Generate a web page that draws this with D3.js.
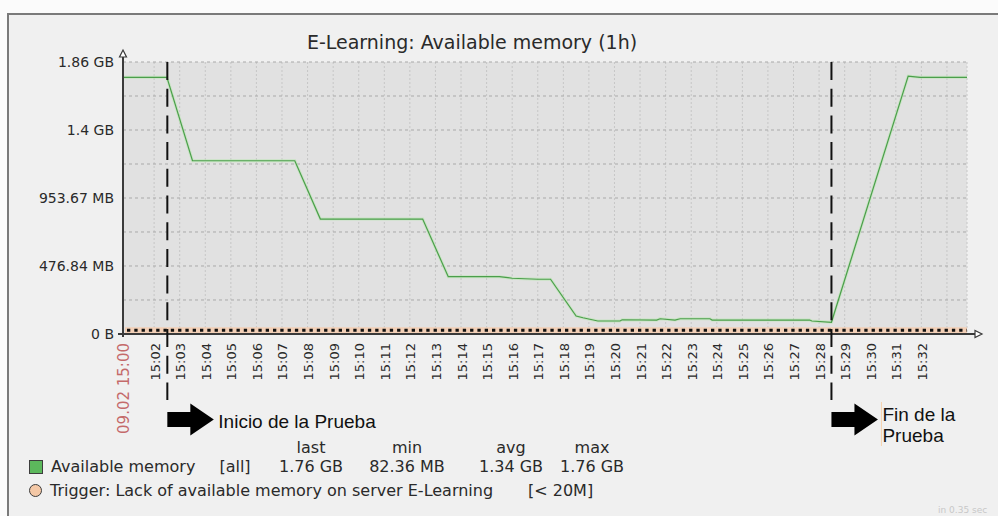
<!DOCTYPE html>
<html>
<head>
<meta charset="utf-8">
<script src="https://cdn.jsdelivr.net/npm/d3@7/dist/d3.min.js"></script>
<style>
  body{ margin:0; background:#fff; }
  svg{ display:block; }
  text{ font-family:"DejaVu Sans", sans-serif; fill:#2a2a2a; }
</style>
</head>
<body>
<svg id="chart" width="998" height="516"></svg>
<script>
// ---- data ----
const day = "2015-02-09";
const periodStart = "15:00:47";
const periodEnd = "15:33:47";

const times = ["15:00:47","15:01:30","15:02:30","15:03:30","15:04:30","15:05:30","15:06:30","15:07:30",
  "15:08:30","15:09:30","15:10:30","15:11:30","15:12:30","15:13:30","15:14:30","15:15:30","15:16:00",
  "15:17:00","15:17:30","15:18:30","15:18:46","15:19:21","15:20:13","15:20:18","15:21:39","15:21:47",
  "15:22:22","15:22:34","15:23:44","15:23:49","15:27:38","15:27:43","15:28:29","15:31:29","15:31:57","15:33:47"];
const memoryMB = [1800,1800,1800,1215,1215,1215,1215,1215,
  806,806,806,806,806,402,402,402,391,
  384,384,126,114,91,91,100,98,107,
  98,107,107,98,98,91,82.36,1808,1800,1800];

const yTickMB = [0, 476.84, 953.67, 1430.51, 1907.35];
const yTickLabels = ["0 B","476.84 MB","953.67 MB","1.4 GB","1.86 GB"];
const yGridMB = [238.42, 715.26, 1192.09, 1668.93];
const xTickLabels = ["15:02","15:03","15:04","15:05","15:06","15:07","15:08","15:09","15:10","15:11",
  "15:12","15:13","15:14","15:15","15:16","15:17","15:18","15:19","15:20","15:21","15:22","15:23",
  "15:24","15:25","15:26","15:27","15:28","15:29","15:30","15:31","15:32"];
const xGridExtra = ["15:33"];
const startLabel = "09.02 15:00";

const markerTimes = ["15:02:31","15:28:29"];
const markerTexts = [["Inicio de la Prueba"],["Fin de la","Prueba"]];

const triggerMB = 20;
const legendHeader = ["last","min","avg","max"];
const legendValues = ["1.76 GB","82.36 MB","1.34 GB","1.76 GB"];

// ---- setup ----
const parse = d3.timeParse("%Y-%m-%d %H:%M:%S");
const t = s => parse(day + " " + (s.length === 5 ? s + ":00" : s));

const svg = d3.select("#chart");
const W = 998, H = 516;
const plot = {left:123, right:967, top:62, bottom:334};

const x = d3.scaleTime()
  .domain([t(periodStart), t(periodEnd)])
  .range([plot.left, plot.right]);
const y = d3.scaleLinear()
  .domain([0, 1907.35])
  .range([plot.bottom, plot.top]);

// page + frame
svg.append("rect").attr("width", W).attr("height", H).attr("fill", "#fbfbfb");
svg.append("rect")
  .attr("x", 8).attr("y", 14).attr("width", W + 10).attr("height", H)
  .attr("fill", "#f0f0f0").attr("stroke", "#7a7a7a").attr("stroke-width", 2);

// title
svg.append("text")
  .attr("x", 472).attr("y", 49)
  .attr("text-anchor", "middle")
  .style("font-size", "19px")
  .text("E-Learning: Available memory (1h)");

// plot background
svg.append("rect")
  .attr("x", plot.left).attr("y", plot.top)
  .attr("width", plot.right - plot.left).attr("height", plot.bottom - plot.top)
  .attr("fill", "#e1e1e1");

// vertical grid
const vgrid = xTickLabels.concat(xGridExtra).map(t);
svg.append("g").selectAll("line")
  .data(vgrid)
  .join("line")
    .attr("x1", d => x(d)).attr("x2", d => x(d))
    .attr("y1", plot.top).attr("y2", plot.bottom)
    .attr("stroke", "#c6c6c6").attr("stroke-dasharray", "2,2");
svg.append("line")
  .attr("x1", plot.right).attr("x2", plot.right)
  .attr("y1", plot.top).attr("y2", plot.bottom)
  .attr("stroke", "#c6c6c6").attr("stroke-dasharray", "2,2");

// horizontal grid
svg.append("g").selectAll("line")
  .data(yGridMB.concat(yTickMB.slice(1)))
  .join("line")
    .attr("x1", plot.left).attr("x2", plot.right)
    .attr("y1", d => y(d)).attr("y2", d => y(d))
    .attr("stroke", "#a9a9a9").attr("stroke-dasharray", "3,3");

// trigger line
svg.append("line")
  .attr("x1", plot.left + 2).attr("x2", plot.right)
  .attr("y1", y(triggerMB) - 1).attr("y2", y(triggerMB) - 1)
  .attr("stroke", "#f2cfb6").attr("stroke-width", 6);
svg.append("line")
  .attr("x1", plot.left + 4).attr("x2", plot.right)
  .attr("y1", y(triggerMB) - 1).attr("y2", y(triggerMB) - 1)
  .attr("stroke", "#111").attr("stroke-width", 3).attr("stroke-dasharray", "3.3,4");

// data line
const line = d3.line()
  .x((d, i) => x(t(times[i])))
  .y(d => y(d));
svg.append("path")
  .datum(memoryMB)
  .attr("d", line)
  .attr("fill", "none")
  .attr("stroke", "#b9e6b1").attr("stroke-width", 3).attr("opacity", 0.6);
svg.append("path")
  .datum(memoryMB)
  .attr("d", line)
  .attr("fill", "none")
  .attr("stroke", "#4b9e4b").attr("stroke-width", 1.2);

// axes
svg.append("line")
  .attr("x1", plot.left - 5).attr("x2", 975)
  .attr("y1", plot.bottom).attr("y2", plot.bottom)
  .attr("stroke", "#3a3a3a").attr("stroke-width", 2);
svg.append("line")
  .attr("x1", plot.left).attr("x2", plot.left)
  .attr("y1", plot.bottom + 3).attr("y2", 56)
  .attr("stroke", "#3a3a3a").attr("stroke-width", 2);
svg.append("path")
  .attr("d", `M${plot.left - 3.5},57 L${plot.left + 3.5},57 L${plot.left},50 Z`)
  .attr("fill", "#fff").attr("stroke", "#3a3a3a").attr("stroke-width", 1.2);
svg.append("path")
  .attr("d", `M975,${plot.bottom - 3.5} L975,${plot.bottom + 3.5} L982,${plot.bottom} Z`)
  .attr("fill", "#fff").attr("stroke", "#3a3a3a").attr("stroke-width", 1.2);

// y labels
svg.append("g").selectAll("text")
  .data(yTickMB)
  .join("text")
    .attr("x", 114).attr("y", d => y(d) + 5)
    .attr("text-anchor", "end")
    .style("font-size", "14px")
    .text((d, i) => yTickLabels[i]);

// x labels
svg.append("g").selectAll("text")
  .data(xTickLabels)
  .join("text")
    .attr("transform", d => `translate(${x(t(d)) + 5.5},343) rotate(-90)`)
    .attr("text-anchor", "end")
    .style("font-size", "13px")
    .text(d => d);
svg.append("text")
  .attr("transform", `translate(${plot.left + 6},343) rotate(-90)`)
  .attr("text-anchor", "end")
  .style("font-size", "15px")
  .style("fill", "#c46a6a")
  .text(startLabel);

// test markers + arrows
markerTimes.forEach((m, i) => {
  const mx = x(t(m));
  svg.append("line")
    .attr("x1", mx).attr("x2", mx)
    .attr("y1", plot.top).attr("y2", 400)
    .attr("stroke", "#111").attr("stroke-width", 2)
    .attr("stroke-dasharray", "18,8.7");
  const cy = 419.5;
  svg.append("path")
    .attr("d", `M${mx},${cy - 7.5} L${mx + 23},${cy - 7.5} L${mx + 23},${cy - 16} L${mx + 46.5},${cy}
      L${mx + 23},${cy + 16} L${mx + 23},${cy + 7.5} L${mx},${cy + 7.5} Z`)
    .attr("fill", "#000");
  const tx = mx + 51;
  const lines = markerTexts[i];
  const y0 = lines.length > 1 ? 421 : 428;
  lines.forEach((s, j) => {
    svg.append("text")
      .attr("x", tx).attr("y", y0 + j * 21)
      .style("font-family", "'Liberation Sans', Arial, sans-serif")
      .style("font-size", "19px")
      .style("fill", "#111")
      .text(s);
  });
  if (lines.length > 1) {
    svg.append("line")
      .attr("x1", tx - 1).attr("x2", tx - 1).attr("y1", 402).attr("y2", 446)
      .attr("stroke", "#f6d2ae").attr("stroke-width", 1);
  }
});

// legend
const colX = [311, 407, 511, 592];
svg.append("g").selectAll("text")
  .data(legendHeader)
  .join("text")
    .attr("x", (d, i) => colX[i]).attr("y", 453)
    .attr("text-anchor", "middle")
    .style("font-size", "16px")
    .text(d => d);
svg.append("rect")
  .attr("x", 29.5).attr("y", 460.5).attr("width", 13).attr("height", 13)
  .attr("fill", "#5cb85c").attr("stroke", "#3d3d3d");
svg.append("text").attr("x", 51).attr("y", 472).style("font-size", "16px").text("Available memory");
svg.append("text").attr("x", 235).attr("y", 472).attr("text-anchor", "middle").style("font-size", "16px").text("[all]");
svg.append("g").selectAll("text")
  .data(legendValues)
  .join("text")
    .attr("x", (d, i) => colX[i]).attr("y", 472)
    .attr("text-anchor", "middle")
    .style("font-size", "16px")
    .text(d => d);
svg.append("circle")
  .attr("cx", 35.5).attr("cy", 490.5).attr("r", 6)
  .attr("fill", "#f4c8a6").attr("stroke", "#3d3d3d");
svg.append("text").attr("x", 50).attr("y", 496).style("font-size", "16px")
  .text("Trigger: Lack of available memory on server E-Learning");
svg.append("text").attr("x", 528).attr("y", 496).style("font-size", "16px").text("[< 20M]");

// faint footer
svg.append("text")
  .attr("x", 938).attr("y", 513)
  .style("font-size", "9px").style("fill", "#c8c8c8")
  .text("in 0.35 sec");
</script>
</body>
</html>
